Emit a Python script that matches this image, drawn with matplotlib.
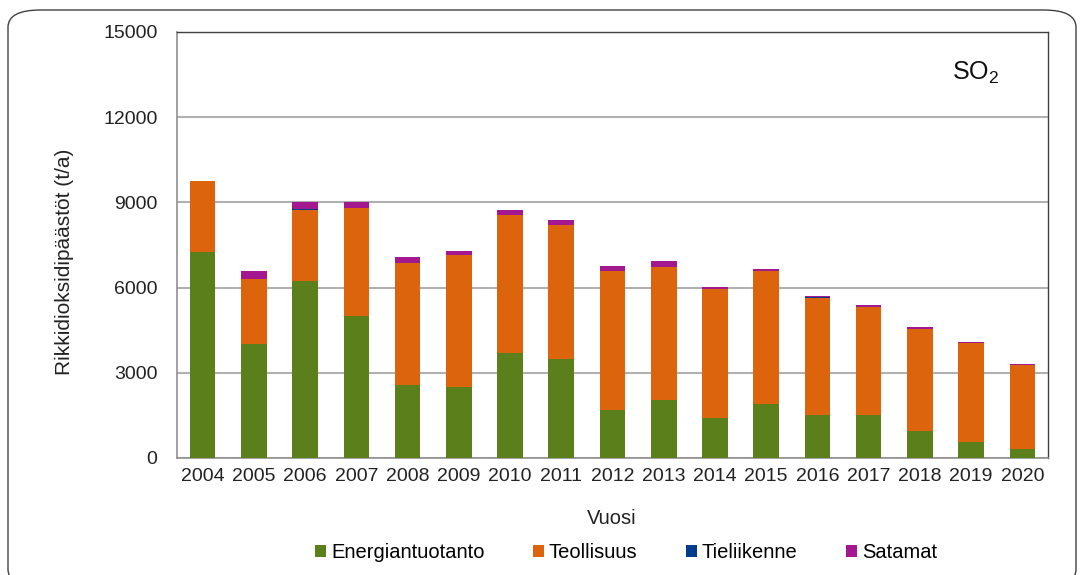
import matplotlib
matplotlib.use("Agg")
import matplotlib.pyplot as plt
from matplotlib.patches import FancyBboxPatch, Patch
import numpy as np

plt.rcParams["font.family"] = ["Liberation Sans", "DejaVu Sans"]
plt.rcParams["mathtext.default"] = "regular"

# Datos (t/a)
vuodet = ["2004", "2005", "2006", "2007", "2008", "2009", "2010", "2011", "2012",
          "2013", "2014", "2015", "2016", "2017", "2018", "2019", "2020"]
energiantuotanto = [7270, 4020, 6240, 5000, 2560, 2490, 3700, 3490, 1680,
                    2050, 1420, 1890, 1520, 1520, 950, 580, 300]
teollisuus = [2470, 2290, 2510, 3800, 4310, 4650, 4850, 4700, 4890,
              4680, 4520, 4690, 4130, 3790, 3600, 3470, 2980]
tieliikenne = [8, 7, 6, 6, 5, 5, 4, 4, 4, 3, 3, 3, 3, 3, 2, 2, 2]
satamat = [20, 260, 260, 200, 195, 160, 175, 195, 170,
           220, 65, 55, 45, 65, 50, 30, 30]

sarjat = ["Energiantuotanto", "Teollisuus", "Tieliikenne", "Satamat"]
varit = ["#5B7F1A", "#DB640C", "#003C8C", "#A3178F"]

fig = plt.figure(figsize=(10.84, 5.75), dpi=100)
ax = fig.add_axes([177 / 1084, 1 - 458 / 575, 871 / 1084, 426 / 575])

# marco redondeado del área del gráfico
marco = FancyBboxPatch((8 / 1084, -0.02), 1068 / 1084, 1 - 10 / 575 + 0.02,
                       boxstyle="round,pad=0,rounding_size=0.03",
                       transform=fig.transFigure, fill=False,
                       edgecolor="#404040", linewidth=1.0, clip_on=False)
fig.patches.append(marco)

x = np.arange(len(vuodet))
pohja = np.zeros(len(vuodet))
for arvot, vari in zip([energiantuotanto, teollisuus, tieliikenne, satamat], varit):
    ax.bar(x, arvot, width=0.5, bottom=pohja, color=vari, zorder=3,
           edgecolor="none")
    pohja = pohja + np.array(arvot)

ax.set_xlim(-0.5, len(vuodet) - 0.5)
ax.set_ylim(0, 15000)
ax.set_yticks(range(0, 15001, 3000))
ax.set_xticks(x)
ax.set_xticklabels(vuodet)
ax.tick_params(axis="both", length=0, labelsize=14, colors="#222222")
ax.tick_params(axis="y", pad=14)
ax.tick_params(axis="x", pad=7)
ax.grid(axis="y", color="#B0B0B0", linewidth=1.5, zorder=0)

for s in ["left", "bottom"]:
    ax.spines[s].set_color("#909090")
    ax.spines[s].set_linewidth(1.2)
for s in ["top", "right"]:
    ax.spines[s].set_color("#404040")
    ax.spines[s].set_linewidth(1.0)

fig.text(65 / 1084, 1 - 262 / 575, "Rikkidioksidipäästöt (t/a)", fontsize=15,
         color="#222222", rotation=90, ha="center", va="center")
fig.text(612 / 1084, 1 - 519 / 575, "Vuosi", fontsize=14.5, color="#222222",
         ha="center", va="center")

ax.text(0.917, 0.905, "SO$_2$", transform=ax.transAxes, fontsize=18,
        ha="center", va="center", color="#111111")

kahvat = [Patch(facecolor=v, edgecolor="none") for v in varit]
fig.legend(kahvat, sarjat, loc="center", bbox_to_anchor=(626 / 1084, 1 - 553 / 575),
           ncol=4, frameon=False, fontsize=14.5, handlelength=0.55, handleheight=0.55,
           handletextpad=0.25, columnspacing=2.4)

fig.savefig("out.png", dpi=100)
